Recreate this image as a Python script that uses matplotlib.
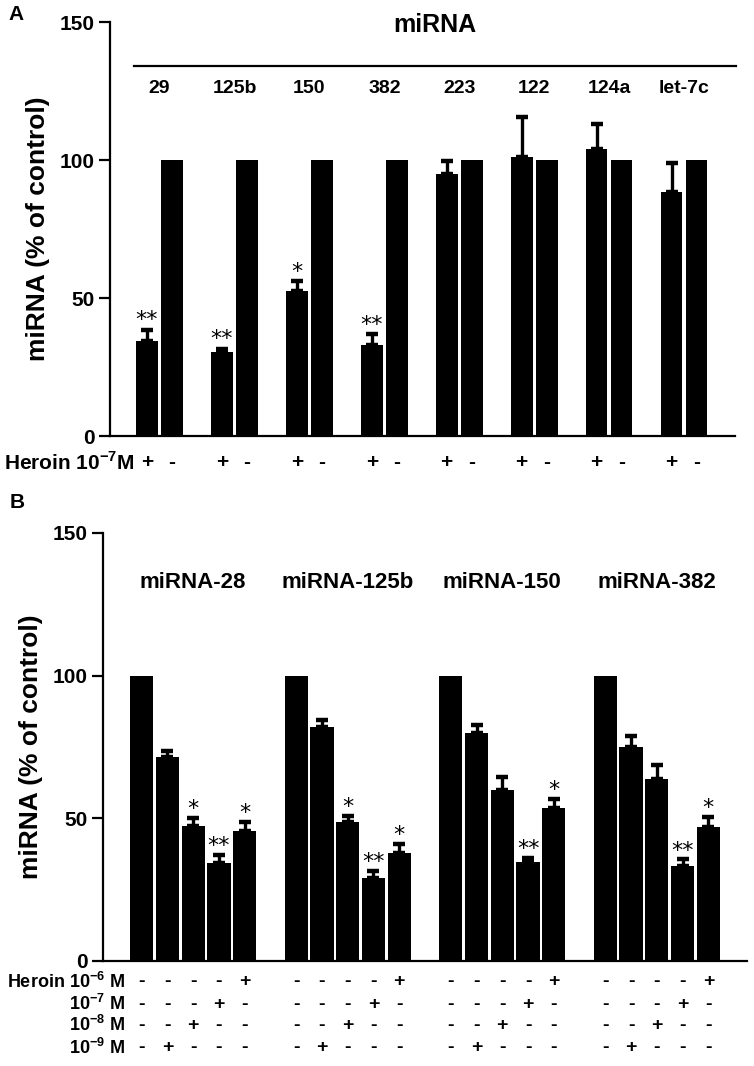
import matplotlib
matplotlib.use("Agg")
import matplotlib.pyplot as plt
import numpy as np

plt.rcParams['font.family'] = ['Liberation Sans', 'DejaVu Sans']
plt.rcParams['font.weight'] = 'bold'
plt.rcParams['mathtext.fontset'] = 'custom'
plt.rcParams['mathtext.rm'] = 'Liberation Sans:bold'
plt.rcParams['mathtext.bf'] = 'Liberation Sans:bold'

# ---------------- Panel A data ----------------
mirna_a = ['29', '125b', '150', '382', '223', '122', '124a', 'let-7c']
heroin_a = [34.5, 30.5, 52.5, 33.0, 95.0, 101.0, 104.0, 88.5]
heroin_a_err = [4.0, 1.2, 3.5, 3.8, 4.5, 14.5, 9.0, 10.5]
control_a = [100, 100, 100, 100, 100, 100, 100, 100]
sig_a = ['**', '**', '*', '**', '', '', '', '']
signs_a = ['+', '-']

# ---------------- Panel B data ----------------
groups_b = ['miRNA-28', 'miRNA-125b', 'miRNA-150', 'miRNA-382']
vals_b = [
    [100, 71.5, 47.4, 34.5, 45.7],
    [100, 82.0, 48.6, 29.0, 37.7],
    [100, 79.8, 59.9, 34.8, 53.7],
    [100, 75.1, 63.8, 33.3, 46.9],
]
errs_b = [
    [0, 2.0, 2.7, 2.7, 3.1],
    [0, 2.6, 2.2, 2.7, 3.2],
    [0, 3.0, 4.6, 1.4, 3.0],
    [0, 3.8, 4.8, 2.3, 3.7],
]
sig_b = [
    ['', '', '*', '**', '*'],
    ['', '', '*', '**', '*'],
    ['', '', '', '**', '*'],
    ['', '', '', '**', '*'],
]
row_labels_b = [r'Heroin 10$^{-6}$ M', r'10$^{-7}$ M', r'10$^{-8}$ M', r'10$^{-9}$ M']
row_plus_b = [4, 3, 2, 1]   # which bar in each group gets '+'
yticks = [0, 50, 100, 150]

W, H = 754, 1066
fig = plt.figure(figsize=(W / 100, H / 100), dpi=100)


def style_axis(ax):
    for s in ['top', 'right']:
        ax.spines[s].set_visible(False)
    for s in ['left', 'bottom']:
        ax.spines[s].set_linewidth(1.6)
    ax.set_ylim(0, 150)
    ax.set_yticks(yticks)
    ax.tick_params(axis='y', length=8, width=1.6, pad=3, labelsize=15)
    ax.tick_params(axis='x', length=0, labelbottom=False)
    for lab in ax.get_yticklabels():
        lab.set_fontweight('bold')
    ax.set_ylabel('miRNA (% of control)', fontsize=19, fontweight='bold', labelpad=7)


# ---------------- Panel A ----------------
axA = fig.add_axes([110 / W, 1 - 436 / H, 625 / W, 414 / H])
style_axis(axA)
xa = np.arange(len(mirna_a))
off, bw = 0.167, 0.29
axA.bar(xa - off, heroin_a, width=bw, color='black')
axA.bar(xa + off, control_a, width=bw, color='black')
axA.errorbar(xa - off, heroin_a, yerr=[np.zeros(len(xa)), heroin_a_err], fmt='none',
             ecolor='black', elinewidth=2.4, capsize=4, capthick=3.2)
axA.set_xlim(-0.661, 7.68)
for i, s in enumerate(sig_a):
    if s:
        axA.text(xa[i] - off, heroin_a[i] + heroin_a_err[i] + 1.2, s, ha='center', va='baseline',
                 fontsize=16, fontweight='normal', family='DejaVu Sans')
for i, name in enumerate(mirna_a):
    axA.text(xa[i], 126, name, ha='center', va='center', fontsize=14, fontweight='bold')
axA.plot([-0.34, 7.69], [134, 134], color='black', lw=1.6, clip_on=False)
axA.text(3.68, 149, 'miRNA', ha='center', va='center', fontsize=18, fontweight='bold')
trA = axA.get_xaxis_transform()
for i in xa:
    axA.text(i - off, -0.065, signs_a[0], transform=trA, ha='center', va='center', fontsize=15, fontweight='bold')
    axA.text(i + off, -0.065, signs_a[1], transform=trA, ha='center', va='center', fontsize=15, fontweight='bold')
axA.text(-0.33, -0.065, r'Heroin 10$^{-7}$M', transform=trA, ha='right', va='center', fontsize=15, fontweight='bold')
fig.text(8 / W, 1 - 15 / H, 'A', ha='left', va='center', fontsize=15, fontweight='bold')

# ---------------- Panel B ----------------
axB = fig.add_axes([103 / W, 1 - 961 / H, 644 / W, 428 / H])
style_axis(axB)
nb = len(vals_b[0])
xb_all, vb_all, eb_all = [], [], []
for g in range(len(groups_b)):
    for j in range(nb):
        xb_all.append(g * 6 + j)
        vb_all.append(vals_b[g][j])
        eb_all.append(errs_b[g][j])
xb_all = np.array(xb_all, dtype=float)
axB.bar(xb_all, vb_all, width=0.9, color='black')
mask = np.array(eb_all) > 0
axB.errorbar(xb_all[mask], np.array(vb_all)[mask], yerr=[np.zeros(mask.sum()), np.array(eb_all)[mask]],
             fmt='none', ecolor='black', elinewidth=2.4, capsize=4, capthick=3.2)
axB.set_xlim(-1.5, 23.5)
for g in range(len(groups_b)):
    axB.text(g * 6 + 2, 132.5, groups_b[g], ha='center', va='center', fontsize=16, fontweight='bold')
    for j in range(nb):
        s = sig_b[g][j]
        if s:
            axB.text(g * 6 + j, vals_b[g][j] + errs_b[g][j] + 1.0, s, ha='center', va='baseline',
                     fontsize=16, fontweight='normal', family='DejaVu Sans')
trB = axB.get_xaxis_transform()
row_y = [-0.049, -0.101, -0.150, -0.203]
for r, lab in enumerate(row_labels_b):
    axB.text(-0.64, row_y[r], lab, transform=trB, ha='right', va='center', fontsize=13, fontweight='bold')
    for g in range(len(groups_b)):
        for j in range(nb):
            axB.text(g * 6 + j, row_y[r], '+' if j == row_plus_b[r] else '-', transform=trB,
                     ha='center', va='center', fontsize=14, fontweight='bold')
fig.text(10 / W, 1 - 503 / H, 'B', ha='left', va='center', fontsize=15, fontweight='bold')

fig.savefig('out.png', dpi=100)
